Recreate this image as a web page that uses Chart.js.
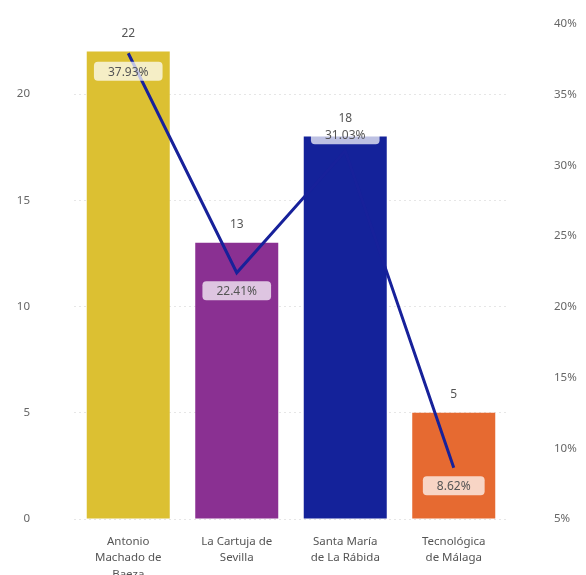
<!DOCTYPE html>
<html>
<head>
<meta charset="utf-8">
<script src="https://cdn.jsdelivr.net/npm/chart.js@4"></script>
<style>
  html, body { margin: 0; padding: 0; background: #fff; }
  canvas { display: block; }
</style>
</head>
<body>
<canvas id="grafico" width="586" height="575"></canvas>
<script>
// Datos del gráfico
const categorias = [
    ['Antonio', 'Machado de', 'Baeza'],
    ['La Cartuja de', 'Sevilla'],
    ['Santa María', 'de La Rábida'],
    ['Tecnológica', 'de Málaga']
];
const cantidades = [22, 13, 18, 5]; // eje izquierdo
const porcentajes = [37.93, 22.41, 31.03, 8.62]; // eje derecho (%)
const coloresBarras = ['#dcc032', '#8a3092', '#14229a', '#e66a31'];

// posicion de la etiqueta del porcentaje respecto al punto
const posEtiqueta = ['abajo', 'abajo', 'arriba', 'abajo'];

const fuente = '"Noto Sans", sans-serif';

// plugin para dibujar las etiquetas de datos
const etiquetas = {
    id: 'etiquetas',
    afterDraw(chart) {
        const ctx = chart.ctx;
        ctx.save();
        ctx.font = '12px ' + fuente;
        ctx.textAlign = 'center';
        ctx.textBaseline = 'middle';

        // valores encima de las barras
        chart.getDatasetMeta(1).data.forEach((barra, i) => {
            ctx.fillStyle = '#555';
            ctx.fillText(cantidades[i], barra.x, barra.y - 18);
        });

        // porcentajes con caja redondeada
        chart.getDatasetMeta(0).data.forEach((punto, i) => {
            const texto = porcentajes[i].toFixed(2) + '%';
            const ancho = ctx.measureText(texto).width + 28;
            const alto = 19;
            const cy = posEtiqueta[i] === 'abajo' ? punto.y + 18 : punto.y - 16;
            ctx.fillStyle = 'rgba(255,255,255,0.72)';
            ctx.beginPath();
            ctx.roundRect(punto.x - ancho / 2, cy - alto / 2, ancho, alto, 4);
            ctx.fill();
            ctx.fillStyle = '#555';
            ctx.fillText(texto, punto.x, cy + 1);
        });
        ctx.restore();
    }
};

const config = {
    data: {
        labels: categorias,
        datasets: [
            {
                type: 'line',
                data: porcentajes,
                yAxisID: 'y1',
                borderColor: '#17219a',
                borderWidth: 3,
                pointRadius: 0,
                tension: 0,
                order: 0
            },
            {
                type: 'bar',
                data: cantidades,
                yAxisID: 'y',
                backgroundColor: coloresBarras,
                categoryPercentage: 1,
                barPercentage: 0.765,
                order: 1
            }
        ]
    },
    options: {
        responsive: false,
        animation: false,
        devicePixelRatio: 1,
        layout: { padding: { top: 24, left: 0, right: 0, bottom: 0 } },
        plugins: {
            legend: { display: false },
            tooltip: { enabled: false }
        },
        scales: {
            x: {
                grid: { display: false },
                border: { display: false },
                ticks: {
                    color: '#555',
                    font: { family: fuente, size: 11.5, lineHeight: 1.4 },
                    padding: 7,
                    maxRotation: 0
                },
                afterFit: (eje) => { eje.height = 56; }
            },
            y: {
                position: 'left',
                min: 0,
                max: 23.3,
                ticks: {
                    stepSize: 5,
                    color: '#666',
                    font: { family: fuente, size: 11.5 },
                    padding: 0
                },
                grid: {
                    color: '#e6e6e6',
                    tickColor: 'rgba(0,0,0,0)',
                    drawTicks: true,
                    tickLength: 44,
                    lineWidth: 1
                },
                border: { display: false, dash: [2, 3] },
                afterBuildTicks: (eje) => {
                    eje.ticks = eje.ticks.filter(t => t.value % 5 === 0);
                },
                afterFit: (eje) => { eje.width = 74; }
            },
            y1: {
                position: 'right',
                min: 5,
                max: 40,
                ticks: {
                    stepSize: 5,
                    color: '#666',
                    font: { family: fuente, size: 11.5 },
                    padding: 0,
                    callback: (v) => v + '%'
                },
                grid: {
                    drawOnChartArea: false,
                    color: 'rgba(0,0,0,0)',
                    tickColor: 'rgba(0,0,0,0)',
                    drawTicks: true,
                    tickLength: 46
                },
                border: { display: false },
                afterFit: (eje) => { eje.width = 78; }
            }
        }
    },
    plugins: [etiquetas]
};

const grafico = new Chart(document.getElementById('grafico'), config);
</script>
</body>
</html>
